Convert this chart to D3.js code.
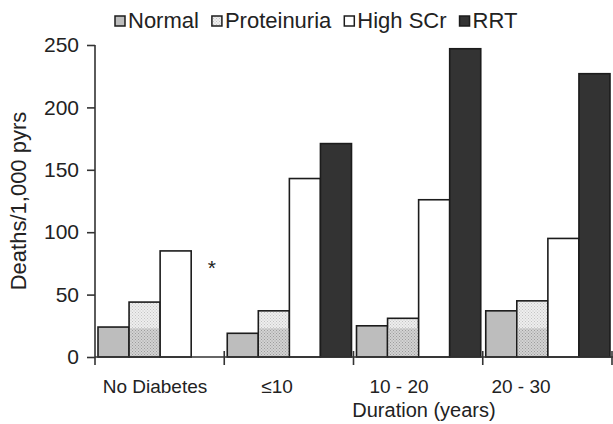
<!DOCTYPE html>
<html>
<head>
<meta charset="utf-8">
<script src="https://cdn.jsdelivr.net/npm/d3@7"></script>
<style>
  body { margin: 0; background: #fff; }
  text { font-family: "Liberation Sans", Arial, sans-serif; fill: #222; }
</style>
</head>
<body>
<svg id="chart" width="613" height="424"></svg>
<script>
// groups along the x axis
const groups = ["No Diabetes", "\u226410", "10 - 20", "20 - 30"];
const series = ["Normal", "Proteinuria", "High SCr", "RRT"];
// deaths per 1,000 person-years, one array per series (null = not shown)
const normal      = [24, 19, 25, 37];
const proteinuria = [44, 37, 31, 45];
const highSCr     = [85, 143, 126, 95];
const rrt         = [null, 171, 247, 227];
const yTicks = [0, 50, 100, 150, 200, 250];

const values = [normal, proteinuria, highSCr, rrt];
const fills = ["#bdbdbd", "url(#dotsLight)", "#ffffff", "#333333"];

const svg = d3.select("#chart");

// dotted fills for the proteinuria bars
const defs = svg.append("defs");
function dots(id, bg, dot) {
  const p = defs.append("pattern").attr("id", id)
    .attr("patternUnits", "userSpaceOnUse").attr("width", 3).attr("height", 3);
  p.append("rect").attr("width", 3).attr("height", 3).attr("fill", bg);
  p.append("rect").attr("width", 1).attr("height", 1).attr("fill", dot);
  p.append("rect").attr("x", 1.5).attr("y", 1.5).attr("width", 1).attr("height", 1).attr("fill", dot);
}
dots("dotsLight", "#eeeeee", "#c4c4c4");
dots("dotsDark", "#d2d2d2", "#9c9c9c");

const y = d3.scaleLinear().domain([0, 250]).range([357, 45]);
const x = d3.scaleBand().domain(groups).range([95, 612]);
const xs = d3.scaleBand().domain(series).range([3, x.bandwidth() - 2]);

// bars
const rows = [];
groups.forEach(function(g, gi) {
  series.forEach(function(s, si) {
    const v = values[si][gi];
    if (v != null) rows.push({g: g, s: s, si: si, v: v});
  });
});

const bars = svg.append("g");
bars.selectAll("rect.bar")
  .data(rows)
  .enter().append("rect")
  .attr("class", "bar")
  .attr("x", d => x(d.g) + xs(d.s))
  .attr("y", d => y(d.v))
  .attr("width", xs.bandwidth())
  .attr("height", d => y(0) - y(d.v))
  .attr("fill", d => fills[d.si])
  .attr("stroke", "#1c1c1c")
  .attr("stroke-width", 1.6);

// darker stipple at the foot of the proteinuria bars
bars.selectAll("rect.foot")
  .data(rows.filter(d => d.s === "Proteinuria"))
  .enter().append("rect")
  .attr("class", "foot")
  .attr("x", d => x(d.g) + xs(d.s) + 1)
  .attr("y", d => y(Math.min(d.v, 23)))
  .attr("width", xs.bandwidth() - 2)
  .attr("height", d => y(0) - y(Math.min(d.v, 23)) - 1)
  .attr("fill", "url(#dotsDark)");

// asterisk where RRT is missing
svg.append("text")
  .attr("x", x(groups[0]) + xs("RRT") + xs.bandwidth() / 2 + 5)
  .attr("y", y(75) + 12)
  .attr("text-anchor", "middle")
  .attr("font-size", "21px")
  .text("*");

// y axis
const yAxis = svg.append("g").attr("transform", "translate(95,0)")
  .call(d3.axisLeft(y).tickValues(yTicks).tickSize(8).tickPadding(8));
yAxis.select(".domain").attr("stroke", "#333").attr("stroke-width", 1.6)
  .attr("d", "M-0," + y(250) + "V" + (y(0) + 8));
yAxis.selectAll(".tick line").attr("stroke", "#333").attr("stroke-width", 1.6);
yAxis.selectAll(".tick text").attr("font-size", "21px")
  .attr("font-family", "Liberation Sans, Arial, sans-serif").attr("fill", "#222");

// x axis line with ticks at group boundaries
svg.append("line")
  .attr("x1", 95).attr("x2", 613)
  .attr("y1", y(0)).attr("y2", y(0))
  .attr("stroke", "#333").attr("stroke-width", 1.6);
svg.selectAll("line.gtick")
  .data(groups.slice(1).concat(["end"]))
  .enter().append("line")
  .attr("class", "gtick")
  .attr("x1", (d, i) => x.range()[0] + x.step() * (i + 1))
  .attr("x2", (d, i) => x.range()[0] + x.step() * (i + 1))
  .attr("y1", y(0) - 6).attr("y2", y(0) + 8)
  .attr("stroke", "#333").attr("stroke-width", 1.6);

// group labels
const xl = d3.scalePoint().domain(groups).range([155, 521]);
svg.selectAll("text.glabel")
  .data(groups)
  .enter().append("text")
  .attr("class", "glabel")
  .attr("x", d => xl(d))
  .attr("y", 393)
  .attr("text-anchor", "middle")
  .attr("font-size", "19px")
  .text(d => d);

svg.append("text")
  .attr("x", 424).attr("y", 417)
  .attr("text-anchor", "middle")
  .attr("font-size", "20px")
  .text("Duration (years)");

svg.append("text")
  .attr("transform", "translate(26,201) rotate(-90)")
  .attr("text-anchor", "middle")
  .attr("font-size", "22px")
  .text("Deaths/1,000 pyrs");

// legend
const legendFills = ["#bdbdbd", "url(#dotsLight)", "#ffffff", "#333333"];
let lx = 115;
series.forEach(function(s, i) {
  svg.append("rect")
    .attr("x", lx).attr("y", 16).attr("width", 10).attr("height", 10)
    .attr("fill", legendFills[i]).attr("stroke", "#1c1c1c").attr("stroke-width", 1.5);
  const t = svg.append("text")
    .attr("x", lx + 13).attr("y", 28)
    .attr("font-size", "22px")
    .text(s);
  lx += 13 + t.node().getComputedTextLength() + 13;
});
</script>
</body>
</html>
